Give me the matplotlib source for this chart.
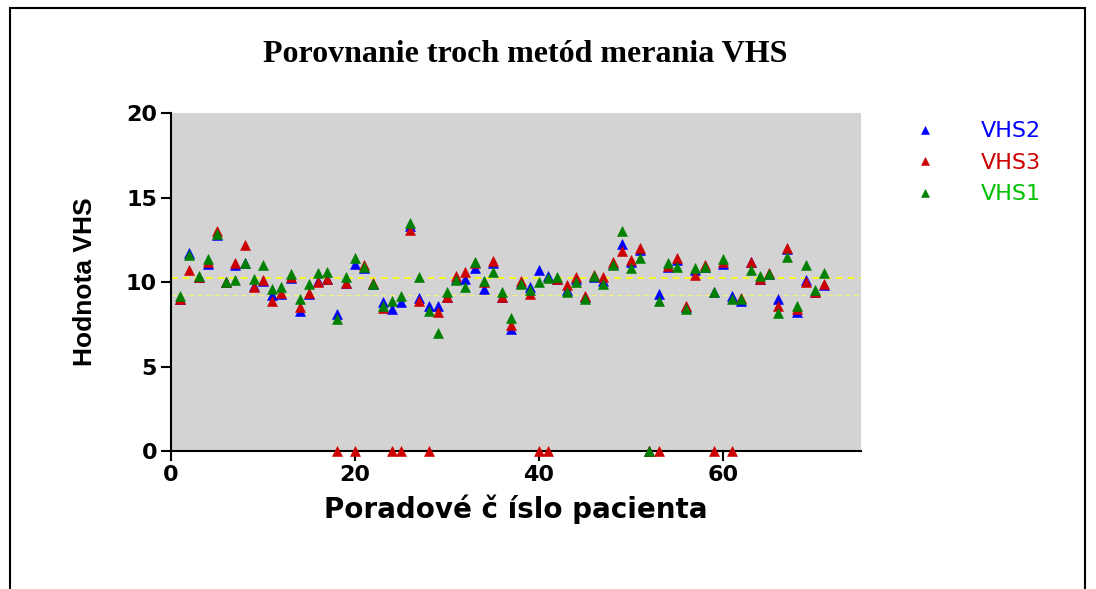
import matplotlib
matplotlib.use("Agg")
import matplotlib.pyplot as plt
from matplotlib.patches import Rectangle

# cislo pacienta 1..71
pacient = list(range(1, 72))

vhs2 = [9.0, 11.7, 10.3, 11.07, 12.8, 10.0, 10.98, 11.1, 9.76, 10.05,
        9.21, 9.3, 10.25, 8.28, 9.3, 10.05, 10.2, 8.09, 9.96, 11.07,
        10.85, 9.9, 8.82, 8.38, 8.8, 13.3, 9.03, 8.58, 8.6, 9.13,
        10.2, 10.2, 10.83, 9.6, 11.15, 9.09, 7.24, 9.95, 9.69, 10.71,
        10.37, 10.2, 9.5, 10.2, 9.1, 10.3, 10.05, 11.05, 12.25, 11.2,
        11.9, 0.0, 9.29, 10.9, 11.3, 8.5, 10.7, 10.9, 9.4, 11.08,
        9.17, 8.9, 11.2, 10.2, 10.5, 9.0, 11.95, 8.22, 10.12, 9.4,
        9.8]

vhs3 = [9.0, 10.71, 10.3, 11.18, 13.04, 10.0, 11.1, 12.21, 9.69, 10.12,
        8.89, 9.33, 10.27, 8.54, 9.33, 10.02, 10.2, 0.0, 9.96, 0.0,
        11.0, 9.96, 8.44, 0.0, 0.0, 13.08, 8.89, 0.0, 8.22, 9.13,
        10.37, 10.59, 11.1, 10.0, 11.26, 9.09, 7.44, 10.08, 9.29, 0.0,
        0.0, 10.2, 9.82, 10.3, 9.17, 10.4, 10.27, 11.18, 11.85, 11.28,
        11.99, 0.0, 0.0, 10.95, 11.4, 8.58, 10.4, 10.99, 0.0, 11.2,
        0.0, 9.05, 11.2, 10.2, 10.55, 8.6, 12.01, 8.4, 10.0, 9.4,
        9.86]

vhs1 = [9.17, 11.58, 10.36, 11.36, 12.84, 9.98, 10.1, 11.1, 10.18, 10.99,
        9.6, 9.69, 10.47, 9.01, 9.88, 10.51, 10.59, 7.79, 10.3, 11.4,
        10.91, 9.9, 8.58, 8.88, 9.17, 13.51, 10.3, 8.26, 6.96, 9.39,
        10.12, 9.7, 11.18, 10.08, 10.59, 9.39, 7.87, 9.9, 9.53, 9.98,
        10.22, 10.28, 9.43, 10.0, 9.0, 10.33, 9.88, 11.0, 13.04, 10.81,
        11.4, 0.0, 8.89, 11.1, 10.91, 8.42, 10.81, 10.9, 9.41, 11.38,
        9.01, 9.01, 10.73, 10.36, 10.5, 8.19, 11.5, 8.6, 11.0, 9.5,
        10.51]

priemer_horny = 10.22
priemer_dolny = 9.21

fig = plt.figure(figsize=(10.96, 5.89), dpi=100)
ax = fig.add_axes([0.156, 0.2343, 0.6296, 0.5738])
ax.set_facecolor("#D3D3D3")

ax.axhline(priemer_horny, color="#FFFF00", lw=1.2, ls=(0, (4, 3)), zorder=1)
ax.axhline(priemer_dolny, color="#F2F27A", lw=0.9, ls=(0, (4, 3)), zorder=1)

ax.plot(pacient, vhs2, "^", color="#0000FF", ms=7, mew=0.4, label="VHS2", clip_on=False, zorder=3)
ax.plot(pacient, vhs3, "^", color="#CC0000", ms=7, mew=0.4, label="VHS3", clip_on=False, zorder=4)
ax.plot(pacient, vhs1, "^", color="#008000", ms=7, mew=0.4, label="VHS1", clip_on=False, zorder=5)

ax.set_xlim(0, 75)
ax.set_ylim(0, 20)
ax.set_xticks([0, 20, 40, 60])
ax.set_yticks([0, 5, 10, 15, 20])
for s in ["top", "right"]:
    ax.spines[s].set_visible(False)
for s in ["left", "bottom"]:
    ax.spines[s].set_linewidth(1.5)
ax.tick_params(direction="out", length=7, width=1.5, labelsize=16, pad=3)
for lab in ax.get_xticklabels() + ax.get_yticklabels():
    lab.set_fontfamily("DejaVu Sans")
    lab.set_fontweight("bold")

ax.set_xlabel("Poradové č íslo pacienta", fontfamily="DejaVu Sans",
              fontweight="bold", fontsize=20, labelpad=7)
ax.set_ylabel("Hodnota VHS", fontfamily=["Liberation Sans Narrow", "Liberation Sans"],
              fontweight="bold", fontsize=19, labelpad=21)

fig.text(0.479, 0.907, "Porovnanie troch metód merania VHS", ha="center", va="center",
         fontfamily="Liberation Serif", fontweight="bold", fontsize=23)

leg = ax.legend(loc="upper left", bbox_to_anchor=(0.816, 0.828), bbox_transform=fig.transFigure,
                frameon=False, handlelength=1.0, handletextpad=2.0,
                labelspacing=0.52, markerscale=0.8,
                labelcolor=["#0000FF", "#CC0000", "#00C000"],
                prop={"family": "DejaVu Sans", "size": 16})

fig.patches.append(Rectangle((10 / 1096, -0.05), 1075 / 1096, 1.05 - 8 / 589,
                             transform=fig.transFigure, fill=False, lw=1.5,
                             edgecolor="black"))

fig.savefig("out.png", dpi=100)
